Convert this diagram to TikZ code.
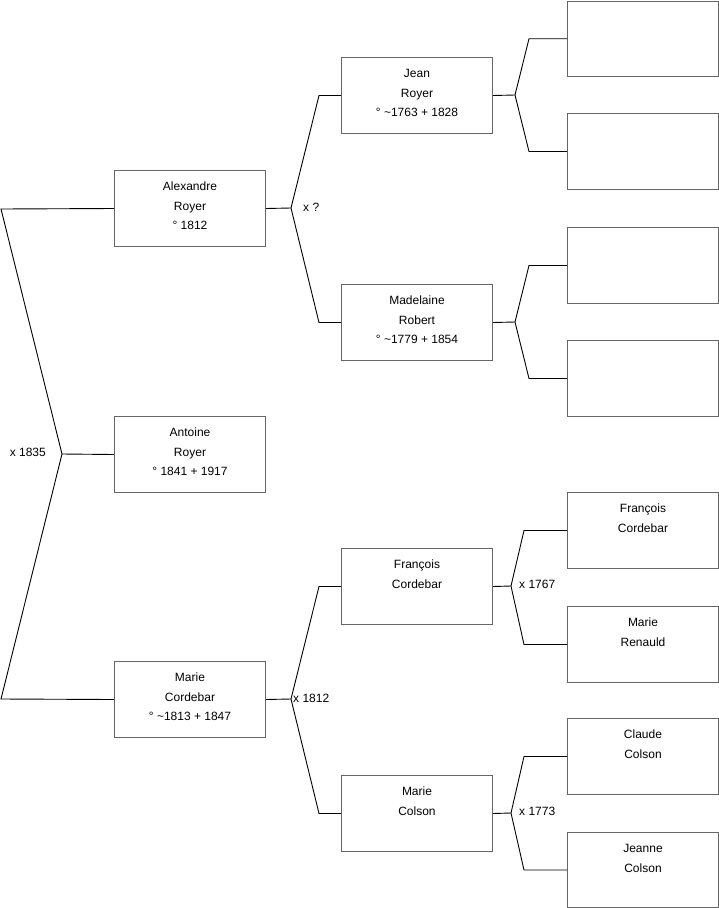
\documentclass[tikz,border=0pt]{standalone}
\usepackage{fontspec}
\setmainfont{Liberation Sans}
\begin{document}
\begin{tikzpicture}[x=1pt,y=-1pt,
  person/.style={draw=black!60, line width=1pt, fill=white, anchor=north west,
    minimum width=151pt, minimum height=76pt, inner sep=0pt},
  ptext/.style={anchor=north, align=center, inner sep=0pt, font=\fontsize{12}{19.5}\selectfont},
  conn/.style={draw=black, line width=0.9pt},
  marr/.style={inner sep=0pt, font=\fontsize{12}{14}\selectfont}]
\useasboundingbox (0,0) rectangle (719,908);

% generation 1
\node[person] (alex) at (114,170) {};
\node[person] (antoine) at (114,416) {};
\node[person] (mcord) at (114,661) {};
% generation 2
\node[person] (jean) at (341,57) {};
\node[person] (madel) at (341,284) {};
\node[person] (fcord) at (341,548) {};
\node[person] (mcolson) at (341,775) {};
% generation 3
\node[person, minimum height=75.5pt] (r1) at (567,0.5) {};
\node[person] (r2) at (567,113) {};
\node[person] (r3) at (567,227) {};
\node[person] (r4) at (567,340) {};
\node[person] (r5) at (567,492) {};
\node[person] (r6) at (567,606) {};
\node[person] (r7) at (567,718) {};
\node[person, minimum height=75pt] (r8) at (567,832) {};

% texts
\node[ptext] (alexT) at ([yshift=-7pt]alex.north) {\strut Alexandre\\Royer\\° 1812};
\node[ptext] (antoineT) at ([yshift=-7pt]antoine.north) {\strut Antoine\\Royer\\° 1841 + 1917};
\node[ptext] (mcordT) at ([yshift=-7pt]mcord.north) {\strut Marie\\Cordebar\\° \textasciitilde 1813 + 1847};
\node[ptext] (jeanT) at ([yshift=-7pt]jean.north) {\strut Jean\\Royer\\° \textasciitilde 1763 + 1828};
\node[ptext] (madelT) at ([yshift=-7pt]madel.north) {\strut Madelaine\\Robert\\° \textasciitilde 1779 + 1854};
\node[ptext] (fcordT) at ([yshift=-7pt]fcord.north) {\strut François\\Cordebar};
\node[ptext] (mcolsonT) at ([yshift=-7pt]mcolson.north) {\strut Marie\\Colson};
\node[ptext] (r5T) at ([yshift=-7pt]r5.north) {\strut François\\Cordebar};
\node[ptext] (r6T) at ([yshift=-7pt]r6.north) {\strut Marie\\Renauld};
\node[ptext] (r7T) at ([yshift=-7pt]r7.north) {\strut Claude\\Colson};
\node[ptext] (r8T) at ([yshift=-7pt]r8.north) {\strut Jeanne\\Colson};

% joints
\coordinate (c1) at (1,209);
\coordinate (j1) at (62,454);
\coordinate (c2) at (1,699);
\coordinate (j2) at (291,208);
\coordinate (j3) at (515,95);
\coordinate (j4) at (515,322);
\coordinate (j5) at (291,699);
\coordinate (j6) at (511,586);
\coordinate (j7) at (511,813);

% group 1
\draw[conn] (alex.west) -- (c1) -- (j1) -- (c2) -- (mcord.west);
\draw[conn] (j1) -- (antoine.west);
% group 2
\draw[conn] (alex.east) -- (j2);
\draw[conn] (jean.west) -- ([xshift=-22pt]jean.west) -- (j2) -- ([xshift=-22pt]madel.west) -- (madel.west);
% group 3
\draw[conn] (jean.east) -- (j3);
\draw[conn] (r1.west) -- ([xshift=-38pt]r1.west) -- (j3) -- ([xshift=-38pt]r2.west) -- (r2.west);
% group 4
\draw[conn] (madel.east) -- (j4);
\draw[conn] (r3.west) -- ([xshift=-38pt]r3.west) -- (j4) -- ([xshift=-38pt]r4.west) -- (r4.west);
% group 5
\draw[conn] (mcord.east) -- (j5);
\draw[conn] (fcord.west) -- ([xshift=-22pt]fcord.west) -- (j5) -- ([xshift=-22pt]mcolson.west) -- (mcolson.west);
% group 6
\draw[conn] (fcord.east) -- (j6);
\draw[conn] (r5.west) -- ([xshift=-43pt]r5.west) -- (j6) -- ([xshift=-43pt]r6.west) -- (r6.west);
% group 7
\draw[conn] (mcolson.east) -- (j7);
\draw[conn] (r7.west) -- ([xshift=-43pt]r7.west) -- (j7) -- ([xshift=-43pt]r8.west) -- (r8.west);

% marriage labels
\node[marr, anchor=east] (m1) at (46,452) {x 1835};
\node[marr, anchor=west] (m2) at (303,207) {x ?};
\node[marr, anchor=west] (m3) at (293,698) {x 1812};
\node[marr, anchor=west] (m4) at (519,584) {x 1767};
\node[marr, anchor=west] (m5) at (519,811) {x 1773};
\end{tikzpicture}
\end{document}
